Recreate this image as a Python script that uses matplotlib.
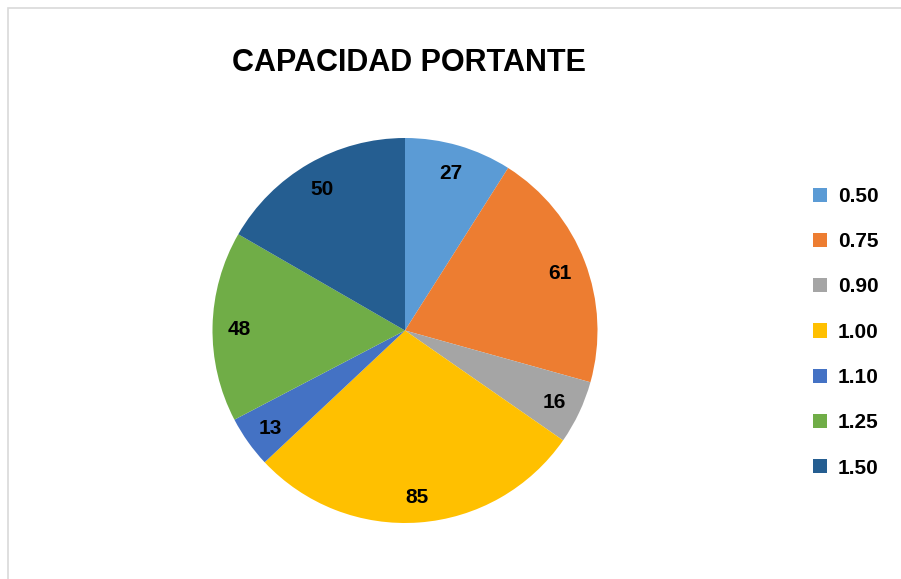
import matplotlib
matplotlib.use("Agg")
import matplotlib.pyplot as plt
from matplotlib.patches import Rectangle, Patch

categories = ["0.50", "0.75", "0.90", "1.00", "1.10", "1.25", "1.50"]
values = [27, 61, 16, 85, 13, 48, 50]
colors = ["#5B9BD5", "#ED7D31", "#A5A5A5", "#FFC000", "#4472C4", "#70AD47", "#255E91"]
title = "CAPACIDAD PORTANTE"

W, H = 901, 579
fig = plt.figure(figsize=(W / 100, H / 100), dpi=100)
plt.rcParams['font.family'] = ['Liberation Sans', 'DejaVu Sans']

# chart border
fig.patches.append(Rectangle((8 / W, -0.01), 1.2, (H - 8) / H + 0.01, transform=fig.transFigure,
                             fill=False, edgecolor="#D9D9D9", linewidth=1.2))

cx, cy, r = 405, 330.5, 192.5
ax = fig.add_axes([(cx - r) / W, (H - cy - r) / H, 2 * r / W, 2 * r / H])
wedges, texts = ax.pie(values, colors=colors, startangle=90, counterclock=False,
                       labels=[str(v) for v in values], labeldistance=0.86,
                       wedgeprops=dict(linewidth=0),
                       textprops=dict(fontsize=15, fontweight="bold", color="black",
                                      ha="center", va="center_baseline"))
ax.set_xlim(-1, 1)
ax.set_ylim(-1, 1)
ax.set_aspect("auto")
ax.axis("off")

fig.text(409 / W, 1 - 63 / H, title, ha="center", va="center", fontsize=22, fontweight="bold")

handles = [Patch(facecolor=c, edgecolor="none") for c in colors]
fig.legend(handles, categories, loc="upper left", bbox_to_anchor=(813 / W, 1 - 187 / H),
           frameon=False, prop=dict(size=15, weight="bold"), handlelength=0.67, handleheight=0.67,
           handletextpad=0.53, labelspacing=1.26, borderaxespad=0, borderpad=0)

fig.savefig("out.png", dpi=100)
